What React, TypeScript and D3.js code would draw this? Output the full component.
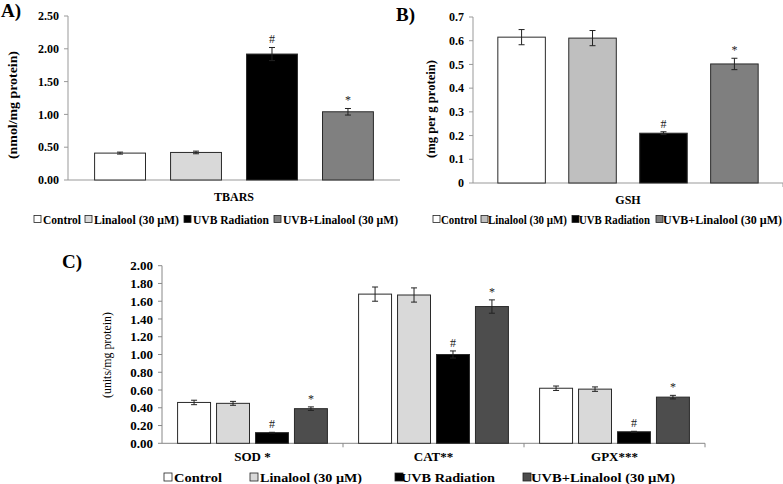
import React from 'react'
import * as d3 from 'd3'

// treatment groups (legend order)
const groups = ['Control', 'Linalool (30 µM)', 'UVB Radiation', 'UVB+Linalool (30 µM)']
const marks = ['', '', '#', '*']

// A) TBARS
const tbarsCats = ['TBARS']
const tbarsMean = [[0.41, 0.42, 1.92, 1.04]]
const tbarsErr = [[0.015, 0.02, 0.1, 0.05]]
const tbarsTicks = [0, 0.5, 1, 1.5, 2, 2.5]

// B) GSH
const gshCats = ['GSH']
const gshMean = [[0.615, 0.611, 0.21, 0.502]]
const gshErr = [[0.032, 0.032, 0.006, 0.024]]
const gshTicks = [0, 0.1, 0.2, 0.3, 0.4, 0.5, 0.6, 0.7]

// C) enzymes
const enzCats = ['SOD *', 'CAT**', 'GPX***']
const sodMean = [0.46, 0.45, 0.12, 0.39]
const catMean = [1.68, 1.67, 1.0, 1.54]
const gpxMean = [0.62, 0.61, 0.13, 0.52]
const sodErr = [0.025, 0.022, 0.004, 0.02]
const catErr = [0.08, 0.08, 0.04, 0.075]
const gpxErr = [0.025, 0.025, 0.005, 0.02]
const enzTicks = [0, 0.2, 0.4, 0.6, 0.8, 1, 1.2, 1.4, 1.6, 1.8, 2]

const FONT = '"Liberation Serif", "Times New Roman", serif'

function Panel(props) {
  const {
    x0, x1, yTop, yBottom, yMax, ticks, fmt, cats, means, errs, colors,
    inner, outer, tickFont, catFont, catY, axisColor, catTicks,
  } = props
  const y = d3.scaleLinear().domain([0, yMax]).range([yBottom, yTop])
  const xc = d3.scaleBand().domain(cats).range([x0, x1]).padding(0)
  const xs = d3
    .scaleBand()
    .domain(d3.range(groups.length))
    .range([0, xc.bandwidth()])
    .paddingInner(inner)
    .paddingOuter(outer)

  return (
    <g>
      {/* y axis */}
      <line x1={x0} x2={x0} y1={yTop} y2={yBottom} stroke={axisColor} />
      {ticks.map((t) => (
        <g key={t}>
          <line x1={x0 - 4} x2={x0} y1={y(t)} y2={y(t)} stroke={axisColor} />
          <text
            x={x0 - 9}
            y={y(t)}
            dy="0.35em"
            textAnchor="end"
            fontSize={tickFont}
            fontWeight="bold"
          >
            {fmt(t)}
          </text>
        </g>
      ))}
      {/* x axis */}
      <line x1={x0} x2={x1} y1={yBottom} y2={yBottom} stroke={axisColor} />
      {catTicks &&
        cats.map((c) => (
          <line
            key={c}
            x1={xc(c) + xc.bandwidth()}
            x2={xc(c) + xc.bandwidth()}
            y1={yBottom}
            y2={yBottom + 4}
            stroke={axisColor}
          />
        ))}
      {cats.map((c, ci) => (
        <g key={c}>
          {means[ci].map((v, i) => {
            const bx = xc(c) + xs(i)
            const cx = bx + xs.bandwidth() / 2
            const e = errs[ci][i]
            return (
              <g key={i}>
                <rect
                  x={bx}
                  y={y(v)}
                  width={xs.bandwidth()}
                  height={yBottom - y(v)}
                  fill={colors[i]}
                  stroke="#2a2a2a"
                  strokeWidth={1}
                />
                <line x1={cx} x2={cx} y1={y(v - e)} y2={y(v + e)} stroke="#222" />
                <line x1={cx - 3} x2={cx + 3} y1={y(v - e)} y2={y(v - e)} stroke="#222" />
                <line x1={cx - 3} x2={cx + 3} y1={y(v + e)} y2={y(v + e)} stroke="#222" />
                {marks[i] && (
                  <text
                    x={cx}
                    y={y(v + e) - 4}
                    textAnchor="middle"
                    fontSize={12}
                    fill="#222"
                  >
                    {marks[i]}
                  </text>
                )}
              </g>
            )
          })}
          <text
            x={xc(c) + xc.bandwidth() / 2}
            y={catY}
            textAnchor="middle"
            fontSize={catFont}
            fontWeight="bold"
          >
            {c}
          </text>
        </g>
      ))}
    </g>
  )
}

function Legend({ items, y, size, fontSize, colors }) {
  // items: [swatchX, textX, textWidth]
  return (
    <g>
      {items.map(([sx, tx, tw], i) => (
        <g key={i}>
          <rect
            x={sx}
            y={y - size / 2 - 1}
            width={size}
            height={size}
            fill={colors[i]}
            stroke="#222"
            strokeWidth={0.8}
          />
          <text
            x={tx}
            y={y}
            dy="0.33em"
            fontSize={fontSize}
            fontWeight="bold"
            textLength={tw}
            lengthAdjust="spacingAndGlyphs"
          >
            {groups[i]}
          </text>
        </g>
      ))}
    </g>
  )
}

export default function App() {
  const colorsA = ['#ffffff', '#d9d9d9', '#000000', '#808080']
  const colorsB = ['#ffffff', '#bfbfbf', '#000000', '#7f7f7f']
  const colorsC = ['#ffffff', '#d9d9d9', '#000000', '#4d4d4d']
  const f2 = d3.format('.2f')
  const f1 = (d) => (d === 0 ? '0' : d3.format('.1f')(d))

  return (
    <svg
      width={783}
      height={484}
      style={{ position: 'absolute', left: 0, top: 0, background: '#fff' }}
      fontFamily={FONT}
    >
      <rect width={783} height={484} fill="#fff" />

      {/* A */}
      <text x={1} y={17} fontSize={19} fontWeight="bold">A)</text>
      <text
        transform="translate(17,105) rotate(-90)"
        textAnchor="middle"
        fontSize={12}
        fontWeight="bold"
        textLength={108}
        lengthAdjust="spacingAndGlyphs"
      >
        (nmol/mg protein)
      </text>
      <Panel
        x0={68} x1={400} yTop={16} yBottom={180} yMax={2.5}
        ticks={tbarsTicks} fmt={f2} cats={tbarsCats} means={tbarsMean} errs={tbarsErr}
        colors={colorsA} inner={0.33} outer={0.35} tickFont={12} catFont={12} catY={201}
        axisColor="#999"
      />
      <Legend
        y={220} size={7} fontSize={12} colors={colorsA}
        items={[[34, 43, 38], [85, 94, 85], [184, 193, 76], [274, 283, 115]]}
      />

      {/* B */}
      <text x={396} y={21} fontSize={19} fontWeight="bold">B)</text>
      <text
        transform="translate(435,109) rotate(-90)"
        textAnchor="middle"
        fontSize={12}
        fontWeight="bold"
        textLength={98}
        lengthAdjust="spacingAndGlyphs"
      >
        (mg per g protein)
      </text>
      <Panel
        x0={473} x1={783} yTop={17} yBottom={183} yMax={0.7}
        ticks={gshTicks} fmt={f1} cats={gshCats} means={gshMean} errs={gshErr}
        colors={colorsB} inner={0.33} outer={0.35} tickFont={12} catFont={12} catY={204}
        axisColor="#999" catTicks
      />
      <Legend
        y={220} size={7} fontSize={12} colors={colorsB}
        items={[[433, 441, 36], [481, 488, 79], [572, 579, 71], [656, 663, 119]]}
      />

      {/* C */}
      <text x={62} y={268} fontSize={19} fontWeight="bold">C)</text>
      <text
        transform="translate(111,355) rotate(-90)"
        textAnchor="middle"
        fontSize={12}
        textLength={86}
        lengthAdjust="spacingAndGlyphs"
      >
        (units/mg protein)
      </text>
      <Panel
        x0={162} x1={705} yTop={265.7} yBottom={443.3} yMax={2}
        ticks={enzTicks} fmt={f2} cats={enzCats}
        means={[sodMean, catMean, gpxMean]} errs={[sodErr, catErr, gpxErr]}
        colors={colorsC} inner={0.154} outer={0.4} tickFont={13} catFont={13} catY={461}
        axisColor="#888" catTicks
      />
      <Legend
        y={478} size={8} fontSize={13} colors={colorsC}
        items={[[164, 174, 48], [250, 260, 102], [395, 401, 94], [523, 531, 144]]}
      />
    </svg>
  )
}
